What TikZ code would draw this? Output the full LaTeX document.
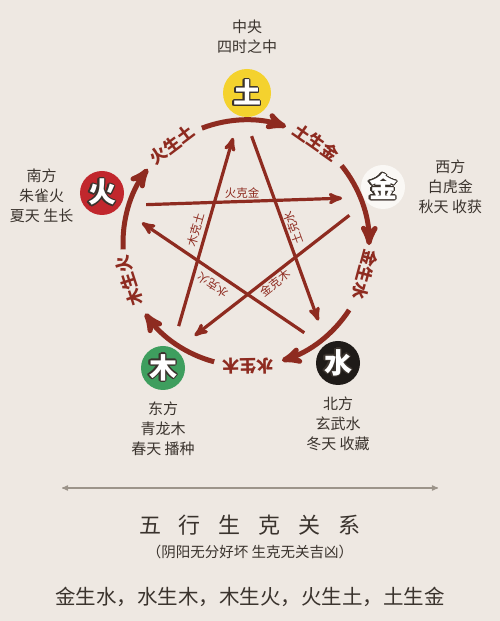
\documentclass[tikz,border=0pt]{standalone}
\usepackage{fontspec}
\setmainfont{Noto Sans CJK SC}
\usepackage{tikz}
\usetikzlibrary{arrows}
\usetikzlibrary{positioning}
\usepackage{contour}
\contourlength{1.1pt}
\contournumber{16}
\definecolor{paper}{HTML}{EEE8E2}
\definecolor{brick}{HTML}{8E2B20}
\definecolor{ink}{HTML}{3A332D}
\definecolor{rule}{HTML}{9C948A}
\definecolor{earth}{HTML}{F4D22E}
\definecolor{metal}{HTML}{FAF8F5}
\definecolor{fire}{HTML}{C1272D}
\definecolor{wood}{HTML}{3E9E5E}
\definecolor{water}{HTML}{1F1B18}
\tikzset{
    elem/.style = {circle, minimum size=44pt, inner sep=0pt, text=white,
                 font=\fontsize{28}{28}\selectfont\bfseries},
    info/.style = {align=center, text=ink, font=\fontsize{15}{20}\selectfont},
    ring/.style = {draw=brick, line width=5pt, ->},
    ke/.style = {draw=brick, line width=3.2pt, ->},
    sheng/.style = {text=brick, inner sep=0pt, font=\fontsize{17}{17}\selectfont\bfseries},
    kelab/.style = {text=brick, inner sep=0pt, font=\fontsize{11.5}{11.5}\selectfont},
}

\begin{document}
\begin{tikzpicture}[x=1pt,y=1pt,>=stealth']
\fill[paper] (0,0) rectangle (500,621);
\useasboundingbox (0,0) rectangle (500,621);
\coordinate (C) at (246,378);

 \node (tu)   [elem, fill=earth, minimum size=48pt] at (247,528) {\contour{ink}{土}};
 \node (jin)  [elem, fill=metal] at (383,434) {\contour{ink}{金}};
 \node (shui) [elem, fill=water] at (338,258) {\contour{ink}{水}};
 \node (mu)   [elem, fill=wood]  at (163,253) {\contour{ink}{木}};
 \node (huo)  [elem, fill=fire]  at (102,428) {\contour{ink}{火}};

 \node (tu-txt)   [info, above=12pt of tu]   {中央\\四时之中};
 \node (jin-txt)  [info, right=10pt of jin]  {西方\\白虎金\\秋天 收获};
 \node (shui-txt) [info, below=8pt of shui]  {北方\\玄武水\\冬天 收藏};
 \node (mu-txt)   [info, below=8pt of mu]    {东方\\青龙木\\春天 播种};
 \node (huo-txt)  [info, left=3pt of huo, yshift=-3pt] {南方\\朱雀火\\夏天 生长};

\foreach \a in {162,90,18,-54,-126}
  \draw[ring] ([shift={(C)}]\a+21:123) arc[start angle=\a+21, end angle=\a-19, radius=123];

\foreach \a/\t [count=\i] in {127/火生土, 55/土生金, -15/金生水, -89/水生木, -162/木生火}
  \node (sheng\i) [sheng, rotate=\a-90] at ([shift={(C)}]\a:123) {\t};

\foreach \s/\e [count=\i] in {162/18, 18/-126, -126/90, 90/-54, -54/162}{
  \coordinate (ks\i) at ([shift={(C)}]\s-3:107);
  \coordinate (ke\i) at ([shift={(C)}]\e+7:106);
  \draw[ke] (ks\i) -- (ke\i);
}

 \node (ke1) [kelab] at (242,428) {火克金};
 \node (ke2) [kelab, rotate=38]  at (275,338) {金克木};
 \node (ke3) [kelab, rotate=74]  at (196,391) {木克土};
 \node (ke4) [kelab, rotate=110] at (293,393) {土克水};
 \node (ke5) [kelab, rotate=146] at (213,336) {水克火};

\coordinate (dl) at (62,133);
\coordinate (dr) at (438,133);
\draw[<->, draw=rule, line width=1.2pt] (dl) -- (dr);

 \node (title) [text=ink, font=\fontsize{22}{22}\selectfont] at (250,96)
   {五\hspace{18pt}行\hspace{18pt}生\hspace{18pt}克\hspace{18pt}关\hspace{18pt}系};
 \node (sub)   [text=ink, font=\fontsize{14.5}{14.5}\selectfont] at (250,69)
   {（阴阳无分好坏 生克无关吉凶）};
 \node (cycle) [text=ink, font=\fontsize{20.5}{20.5}\selectfont] at (250,24)
   {金生水，水生木，木生火，火生土，土生金};
\end{tikzpicture}
\end{document}
